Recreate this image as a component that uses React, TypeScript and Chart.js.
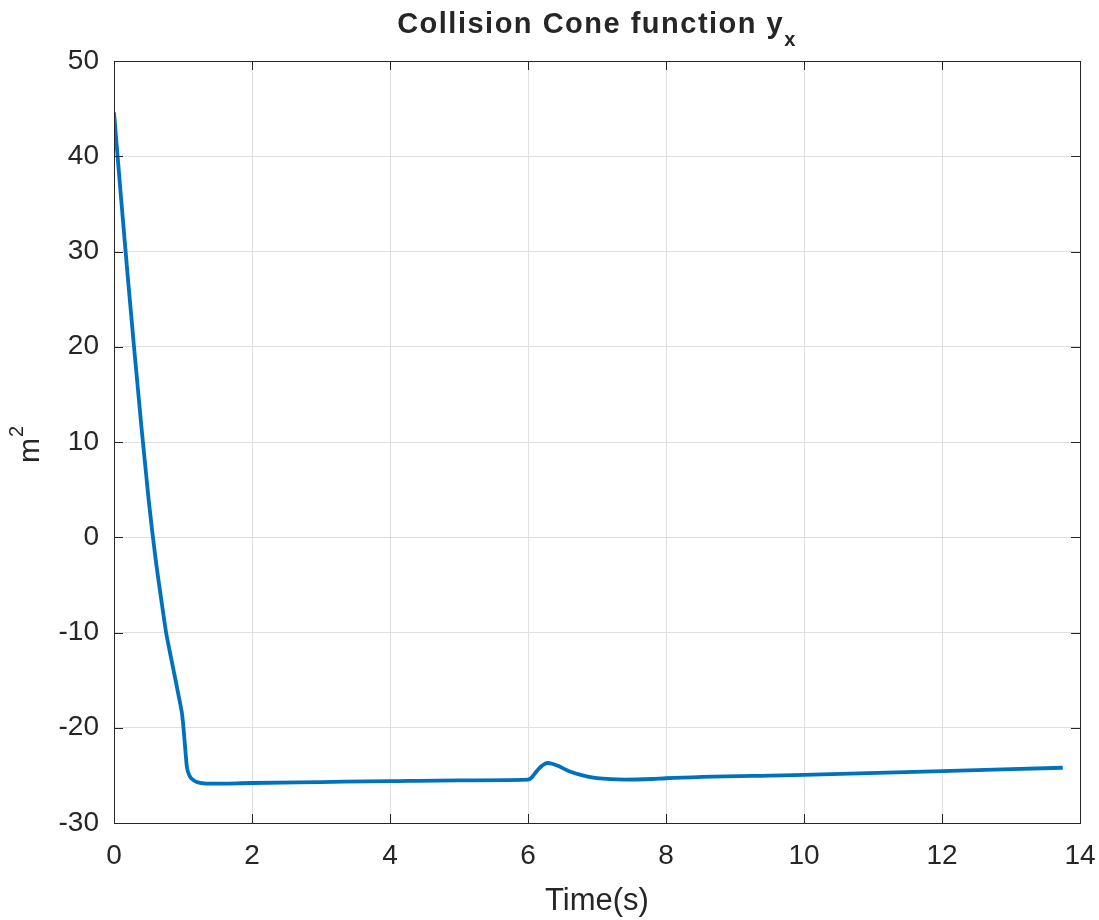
import React, { useEffect, useRef } from "react";
import { Chart, registerables } from "chart.js";

Chart.register(...registerables);

const times: number[] = [
  0, 0.1, 0.2, 0.3, 0.4, 0.5, 0.6, 0.7, 0.755, 0.8, 0.9, 0.96, 0.983, 1.007,
  1.03, 1.056, 1.1, 1.15, 1.2, 1.3, 1.4, 2, 3, 4, 5, 6, 6.05, 6.1, 6.15, 6.2,
  6.28, 6.35, 6.45, 6.55, 6.65, 6.75, 6.85, 7.0, 7.2, 7.4, 7.8, 8, 10, 12,
  13.75,
];
const values: number[] = [
  44.6, 35.8, 27.3, 19.2, 11.4, 4.1, -2.1, -7.3, -10, -11.7, -15.3, -17.5,
  -18.4, -20, -22, -24.1, -25.1, -25.5, -25.7, -25.85, -25.87, -25.8, -25.7,
  -25.6, -25.52, -25.45, -25.25, -24.8, -24.35, -24.0, -23.7, -23.78, -24.05,
  -24.4, -24.7, -24.92, -25.1, -25.28, -25.4, -25.45, -25.38, -25.3, -24.95,
  -24.55, -24.2,
];
const xTicks: number[] = [0, 2, 4, 6, 8, 10, 12, 14];
const yTicks: number[] = [-30, -20, -10, 0, 10, 20, 30, 40, 50];

const titleText = "Collision Cone function y";
const titleSub = "x";
const xLabel = "Time(s)";
const yLabel = "m";
const yLabelSup = "2";

const FONT = "'Liberation Sans', Arial, Helvetica, sans-serif";
const TEXT = "#262626";

const decorPlugin = {
  id: "decor",
  afterDraw(chart: any) {
    const ctx = chart.ctx as CanvasRenderingContext2D;
    const a = chart.chartArea;
    const xs = chart.scales.x;
    const ys = chart.scales.y;
    ctx.save();
    // box
    ctx.strokeStyle = TEXT;
    ctx.lineWidth = 1;
    ctx.strokeRect(Math.round(a.left) + 0.5, Math.round(a.top) + 0.5, Math.round(a.right - a.left), Math.round(a.bottom - a.top));
    // inner ticks
    const tl = 9;
    ctx.beginPath();
    for (const v of xTicks) {
      const px = Math.round(xs.getPixelForValue(v)) + 0.5;
      ctx.moveTo(px, a.bottom);
      ctx.lineTo(px, a.bottom - tl);
      ctx.moveTo(px, a.top);
      ctx.lineTo(px, a.top + tl);
    }
    for (const v of yTicks) {
      const py = Math.round(ys.getPixelForValue(v)) + 0.5;
      ctx.moveTo(a.left, py);
      ctx.lineTo(a.left + tl, py);
      ctx.moveTo(a.right, py);
      ctx.lineTo(a.right - tl, py);
    }
    ctx.stroke();

    ctx.fillStyle = TEXT;
    // title
    ctx.font = `bold 29px ${FONT}`;
    (ctx as any).letterSpacing = "1.5px";
    const tw = ctx.measureText(titleText).width;
    ctx.font = `bold 20px ${FONT}`;
    const sw = ctx.measureText(titleSub).width;
    const cx = (a.left + a.right) / 2;
    const startX = cx - (tw + sw) / 2;
    ctx.textBaseline = "alphabetic";
    ctx.textAlign = "left";
    ctx.font = `bold 29px ${FONT}`;
    ctx.fillText(titleText, startX, 33);
    ctx.font = `bold 20px ${FONT}`;
    ctx.fillText(titleSub, startX + tw, 46);
    (ctx as any).letterSpacing = "0px";

    // x label
    ctx.font = `31px ${FONT}`;
    ctx.textAlign = "center";
    ctx.fillText(xLabel, cx, 910);

    // y label rotated
    ctx.save();
    const cy = (a.top + a.bottom) / 2;
    ctx.translate(38.5, cy);
    ctx.rotate(-Math.PI / 2);
    ctx.textAlign = "left";
    ctx.font = `30px ${FONT}`;
    const mw = ctx.measureText(yLabel).width;
    ctx.font = `20px ${FONT}`;
    const w2 = ctx.measureText(yLabelSup).width;
    const sx = -(mw + w2) / 2 - 3;
    ctx.font = `30px ${FONT}`;
    ctx.fillText(yLabel, sx, 0);
    ctx.font = `20px ${FONT}`;
    ctx.fillText(yLabelSup, sx + mw + 1, -16);
    ctx.restore();

    ctx.restore();
  },
};

export default function App() {
  const ref = useRef<HTMLCanvasElement | null>(null);
  useEffect(() => {
    if (!ref.current) return;
    const points = times.map((t, i) => ({ x: t, y: values[i] }));
    const chart = new Chart(ref.current, {
      type: "line",
      data: {
        datasets: [
          {
            data: points,
            borderColor: "#0072BD",
            borderWidth: 3.8,
            pointRadius: 0,
            cubicInterpolationMode: "monotone",
            fill: false,
          },
        ],
      },
      options: {
        responsive: false,
        animation: false,
        devicePixelRatio: 1,
        layout: { padding: { top: 61, right: 19, left: 0, bottom: 0 } },
        plugins: { legend: { display: false }, title: { display: false }, tooltip: { enabled: false } },
        scales: {
          x: {
            type: "linear",
            min: 0,
            max: 14,
            afterFit: (s: any) => {
              s.height = 97;
              s.paddingLeft = 0;
              s.paddingRight = 0;
            },
            afterBuildTicks: (s: any) => {
              s.ticks = xTicks.map((v) => ({ value: v }));
            },
            ticks: {
              color: TEXT,
              font: { family: FONT, size: 28 },
              padding: 16,
              maxRotation: 0,
              autoSkip: false,
            },
            grid: { color: "#dfdfdf", lineWidth: 1, drawTicks: false },
            border: { display: false },
          },
          y: {
            type: "linear",
            min: -30,
            max: 50,
            afterFit: (s: any) => {
              s.width = 114;
              s.paddingTop = 0;
              s.paddingBottom = 0;
            },
            afterBuildTicks: (s: any) => {
              s.ticks = yTicks.map((v) => ({ value: v }));
            },
            ticks: {
              color: TEXT,
              font: { family: FONT, size: 28 },
              padding: 15,
              autoSkip: false,
            },
            grid: { color: "#dfdfdf", lineWidth: 1, drawTicks: false },
            border: { display: false },
          },
        },
      },
      plugins: [decorPlugin],
    });
    return () => chart.destroy();
  }, []);
  return (
    <div style={{ position: "absolute", left: 0, top: 0, width: 1099, height: 920, background: "#fff" }}>
      <canvas ref={ref} width={1099} height={920} />
    </div>
  );
}
